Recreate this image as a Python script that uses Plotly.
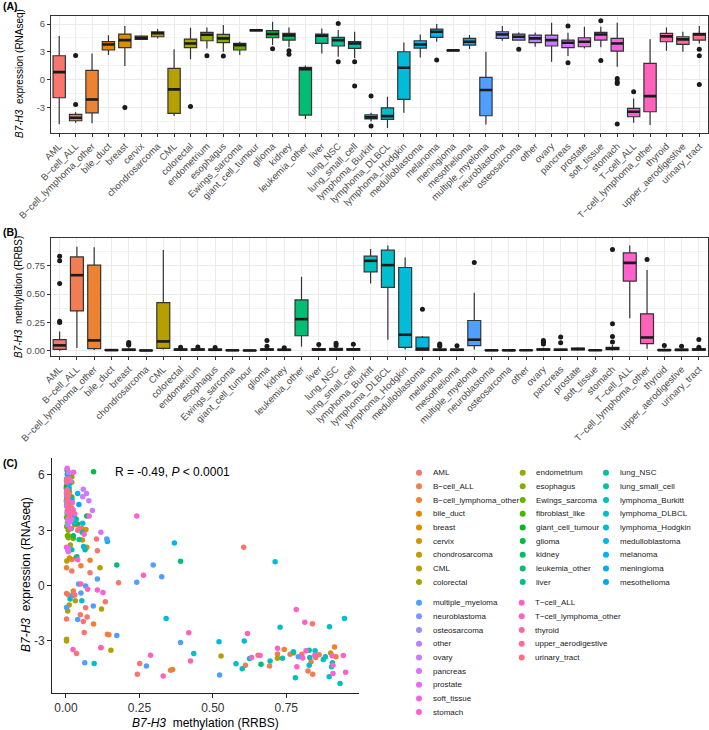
import math
import plotly.graph_objects as go

W, H = 709, 730

# ---------------- categories ----------------
levels = ["AML", "B-cell_ALL", "B-cell_lymphoma_other", "bile_duct", "breast", "cervix",
          "chondrosarcoma", "CML", "colorectal", "endometrium", "esophagus", "Ewings_sarcoma",
          "fibroblast_like", "giant_cell_tumour", "glioma", "kidney", "leukemia_other", "liver",
          "lung_NSC", "lung_small_cell", "lymphoma_Burkitt", "lymphoma_DLBCL", "lymphoma_Hodgkin",
          "medulloblastoma", "melanoma", "meningioma", "mesothelioma", "multiple_myeloma",
          "neuroblastoma", "osteosarcoma", "other", "ovary", "pancreas", "prostate", "soft_tissue",
          "stomach", "T-cell_ALL", "T-cell_lymphoma_other", "thyroid", "upper_aerodigestive",
          "urinary_tract"]

cats_A = ["AML", "B-cell_ALL", "B-cell_lymphoma_other", "bile_duct", "breast", "cervix",
          "chondrosarcoma", "CML", "colorectal", "endometrium", "esophagus", "Ewings_sarcoma",
          "giant_cell_tumour", "glioma", "kidney", "leukemia_other", "liver", "lung_NSC",
          "lung_small_cell", "lymphoma_Burkitt", "lymphoma_DLBCL", "lymphoma_Hodgkin",
          "medulloblastoma", "melanoma", "meningioma", "mesothelioma", "multiple_myeloma",
          "neuroblastoma", "osteosarcoma", "other", "ovary", "pancreas", "prostate", "soft_tissue",
          "stomach", "T-cell_ALL", "T-cell_lymphoma_other", "thyroid", "upper_aerodigestive",
          "urinary_tract"]

# Panel A box statistics (RNAseq expression)
a_lo  = [-4.8, -4.65, -4.7, 2.65, 1.47, 4.27, 4.45, -3.93, 2.19, 3.37, 3.0, 2.65, 5.24, 3.73, 3.5,
         -4.25, 2.83, 2.47, 2.3, -4.5, -5.2, -3.57, 2.4, 4.1, 3.12, 3.3, -4.83, 4.2, 4.2, 3.55,
         1.94, 2.55, 3.37, 3.5, 1.40, -4.65, -4.9, 3.12, 3.01, 3.9]
a_q1  = [-1.95, -4.43, -3.57, 3.2, 3.45, 4.35, 4.63, -3.64, 3.45, 4.2, 3.99, 3.2, 5.27, 4.52, 4.27,
         -3.82, 3.91, 3.63, 3.37, -4.24, -4.29, -2.13, 3.41, 4.56, 3.14, 3.73, -3.89, 4.45, 4.27, 3.99,
         3.63, 3.45, 3.55, 4.27, 3.09, -4.0, -3.46, 4.09, 3.81, 4.27]
a_med = [0.82, -4.1, -2.13, 3.8, 4.27, 4.5, 5.0, -1.05, 3.91, 4.85, 4.45, 3.73, 5.33, 4.92, 4.78,
         1.14, 4.74, 4.27, 3.91, -4.07, -3.93, 1.29, 3.8, 5.17, 3.16, 4.09, -1.12, 4.88, 4.63, 4.45,
         4.27, 3.99, 4.09, 4.88, 3.91, -3.46, -1.77, 4.67, 4.35, 4.88]
a_q3  = [2.58, -3.75, 1.0, 4.1, 4.92, 4.7, 5.17, 1.22, 4.38, 5.1, 4.88, 3.91, 5.38, 5.28, 5.0,
         1.32, 4.92, 4.56, 4.1, -3.78, -3.03, 3.01, 4.2, 5.46, 3.18, 4.45, 0.24, 5.17, 4.92, 4.81,
         4.81, 4.27, 4.52, 5.1, 4.45, -3.1, 1.76, 5.0, 4.63, 5.0]
a_hi  = [4.7, -3.5, 2.83, 4.78, 5.78, 4.8, 5.46, 3.27, 5.6, 5.64, 5.9, 4.1, 5.42, 6.25, 5.64,
         1.54, 5.53, 5.35, 5.17, -3.57, -1.84, 4.02, 4.88, 6.0, 3.2, 4.81, 3.01, 5.78, 5.1, 5.1,
         6.14, 5.06, 5.71, 5.71, 6.14, -2.02, 4.35, 5.64, 5.17, 5.78]
a_out_cat = ["B-cell_ALL", "B-cell_ALL", "breast", "colorectal", "endometrium", "esophagus",
             "glioma", "kidney", "kidney", "lung_NSC", "lung_NSC", "lung_small_cell",
             "lung_small_cell", "lymphoma_Burkitt", "lymphoma_Burkitt", "melanoma", "osteosarcoma",
             "pancreas", "pancreas", "soft_tissue", "soft_tissue", "stomach", "stomach", "stomach",
             "stomach", "T-cell_ALL", "urinary_tract", "urinary_tract", "urinary_tract"]
a_out_val = [2.6, -2.67, -3.0, -2.9, 2.58, 2.55, 3.33, 3.12, 2.73, 6.07, 1.94, 1.94, -0.69,
             -1.77, -5.0, 2.12, 3.27, 5.78, 1.83, 6.36, 2.08, 0.14, -0.22, -0.4, -4.79, -1.3,
             3.27, 2.58, -0.51]

cats_B = ["AML", "B-cell_ALL", "B-cell_lymphoma_other", "bile_duct", "breast", "chondrosarcoma",
          "CML", "colorectal", "endometrium", "esophagus", "Ewings_sarcoma", "giant_cell_tumour",
          "glioma", "kidney", "leukemia_other", "liver", "lung_NSC", "lung_small_cell",
          "lymphoma_Burkitt", "lymphoma_DLBCL", "lymphoma_Hodgkin", "medulloblastoma", "melanoma",
          "mesothelioma", "multiple_myeloma", "neuroblastoma", "osteosarcoma", "other", "ovary",
          "pancreas", "prostate", "soft_tissue", "stomach", "T-cell_ALL", "T-cell_lymphoma_other",
          "thyroid", "upper_aerodigestive", "urinary_tract"]

# Panel B box statistics (RRBS methylation)
b_lo  = [0.0, 0.023, 0.005, 0.0, 0.0, 0.0, 0.01, 0.0, 0.0, 0.0, 0.0, 0.0, 0.0, 0.0, 0.038, 0.0,
         0.0, 0.0, 0.595, 0.097, 0.01, 0.0, 0.0, 0.0, 0.01, 0.0, 0.0, 0.0, 0.0, 0.0, 0.0, 0.0,
         0.0, 0.287, 0.018, 0.0, 0.0, 0.0]
b_q1  = [0.012, 0.352, 0.018, 0.002, 0.003, 0.001, 0.02, 0.005, 0.005, 0.004, 0.002, 0.001,
         0.004, 0.004, 0.132, 0.004, 0.004, 0.005, 0.698, 0.56, 0.029, 0.003, 0.003, 0.003, 0.044,
         0.002, 0.002, 0.002, 0.004, 0.003, 0.008, 0.002, 0.01, 0.616, 0.062, 0.002, 0.003, 0.004]
b_med = [0.047, 0.668, 0.091, 0.005, 0.008, 0.002, 0.082, 0.01, 0.01, 0.008, 0.003, 0.002,
         0.01, 0.008, 0.279, 0.01, 0.01, 0.01, 0.795, 0.757, 0.141, 0.018, 0.008, 0.008, 0.097,
         0.003, 0.003, 0.004, 0.01, 0.008, 0.015, 0.004, 0.018, 0.777, 0.117, 0.005, 0.007, 0.01]
b_q3  = [0.097, 0.83, 0.757, 0.008, 0.015, 0.003, 0.425, 0.015, 0.016, 0.014, 0.005, 0.003,
         0.016, 0.012, 0.449, 0.018, 0.02, 0.018, 0.836, 0.889, 0.736, 0.12, 0.015, 0.013, 0.267,
         0.005, 0.005, 0.006, 0.016, 0.014, 0.024, 0.006, 0.03, 0.865, 0.326, 0.01, 0.012, 0.016]
b_hi  = [0.17, 0.92, 0.915, 0.012, 0.03, 0.004, 0.89, 0.025, 0.025, 0.022, 0.008, 0.004, 0.025,
         0.018, 0.654, 0.03, 0.035, 0.03, 0.9, 0.93, 0.824, 0.13, 0.03, 0.02, 0.513, 0.007, 0.007,
         0.008, 0.025, 0.02, 0.03, 0.008, 0.05, 0.93, 0.713, 0.02, 0.02, 0.025]
b_out_cat = ["AML", "AML", "AML", "AML", "AML", "breast", "breast", "breast", "colorectal",
             "endometrium", "esophagus", "glioma", "glioma", "kidney", "liver", "lung_NSC",
             "lung_NSC", "lung_small_cell", "medulloblastoma", "melanoma", "melanoma", "melanoma",
             "mesothelioma", "multiple_myeloma", "ovary", "ovary", "ovary", "ovary", "pancreas",
             "pancreas", "stomach", "stomach", "stomach", "stomach", "T-cell_lymphoma_other",
             "thyroid", "upper_aerodigestive", "urinary_tract", "urinary_tract"]
b_out_val = [0.25, 0.26, 0.595, 0.795, 0.836, 0.05, 0.06, 0.073, 0.03, 0.032, 0.028, 0.04, 0.09,
             0.025, 0.055, 0.045, 0.065, 0.058, 0.367, 0.04, 0.05, 0.06, 0.044, 0.78, 0.06, 0.07,
             0.08, 0.09, 0.07, 0.12, 0.076, 0.126, 0.238, 0.895, 0.806, 0.045, 0.04, 0.03, 0.1]

# Panel C: (methylation, expression) per cell line, per tumour type
c_AML = [(0.605, 2.08), (0.839, -2.07), (0.803, -3.72), (0.251, -4.22), (0.243, -4.8),
         (0.179, 0.16), (0.107, 1.89), (0.082, 0.7), (0.02, 0.79), (0.008, -0.5), (0.067, -1.2),
         (0.049, -1.58), (0.072, -1.7), (0.059, -1.94), (0.002, -1.81), (0.062, -2.54),
         (0.036, -3.68), (0.119, -3.35), (0.02, 1.42), (0.134, -0.87)]
c_BALL = [(0.356, -4.58), (0.654, -3.77), (0.85, -3.9), (0.141, -2.64), (0.693, -4.35),
          (0.72, -3.7), (0.763, -3.72), (0.824, -4.63), (0.84, -4.81), (0.862, -3.74),
          (0.611, -4.32), (0.002, -0.42)]
c_BLO = [(0.743, -3.46), (0.834, -4.13), (0.914, -3.33), (0.919, -3.86), (0.363, -4.55),
         (0.146, -2.66), (0.094, -2.08), (0.025, -0.29), (0.051, 1.08), (0.082, 1.38),
         (0.033, 1.48), (0.002, 0.97)]
c_bile = [(0.004, 4.7), (0.006, 3.9), (0.003, 3.2), (0.008, 2.7), (0.005, 4.1)]
c_breast = [(0.002, 5.7), (0.01, 4.9), (0.005, 4.3), (0.02, 3.5), (0.007, 4.0), (0.054, 3.1),
            (0.068, 3.05), (0.056, 2.47), (0.071, 2.08), (0.012, 1.5), (0.015, 4.6), (0.03, 3.3)]
c_cervix = [(0.003, 4.5), (0.006, 4.7), (0.002, 4.35)]
c_chondro = [(0.002, 5.0), (0.003, 5.2), (0.001, 4.6)]
c_CML = [(0.528, -3.82), (0.72, -3.94), (0.775, -3.65), (0.901, -3.65), (0.116, 0.97),
         (0.121, -1.27), (0.153, -3.5), (0.002, -2.9), (0.002, -3.0), (0.011, -1.05),
         (0.006, -1.38), (0.032, -0.82), (0.003, 1.33)]
c_colo = [(0.008, 3.9), (0.012, 4.4), (0.005, 3.4), (0.02, 5.6), (0.015, 2.2), (0.03, 3.7),
          (0.01, 4.1)]
c_endo = [(0.006, 4.85), (0.012, 5.1), (0.02, 4.2), (0.004, 5.6), (0.03, 3.4), (0.008, 2.6),
          (0.015, 4.5)]
c_eso = [(0.005, 4.4), (0.01, 4.9), (0.015, 4.0), (0.02, 5.9), (0.008, 3.0), (0.025, 2.55),
         (0.003, 4.6)]
c_ewing = [(0.002, 3.7), (0.004, 3.9), (0.003, 3.2), (0.005, 2.7)]
c_fibro = [(0.01, 5.5), (0.02, 4.8)]
c_giant = [(0.001, 5.3), (0.002, 5.4)]
c_glioma = [(0.004, 6.25), (0.094, 6.18), (0.01, 5.3), (0.006, 4.9), (0.015, 4.5), (0.02, 3.7),
            (0.04, 3.33), (0.008, 5.6), (0.003, 4.7), (0.071, 3.78)]
c_kidney = [(0.005, 5.6), (0.008, 5.0), (0.003, 4.8), (0.012, 4.3), (0.018, 3.1), (0.025, 2.7),
            (0.006, 4.6)]
c_leuk = [(0.664, -4.26), (0.39, 1.32), (0.173, 1.12), (0.037, 1.57)]
c_liver = [(0.01, 5.5), (0.005, 4.9), (0.02, 4.7), (0.015, 3.9), (0.055, 2.9), (0.008, 4.3)]
c_nsc = [(0.005, 6.07), (0.01, 5.3), (0.02, 4.5), (0.008, 4.2), (0.035, 3.6), (0.045, 2.5),
         (0.065, 1.94), (0.003, 4.9), (0.015, 3.9)]
c_sclc = [(0.008, 5.1), (0.015, 4.1), (0.01, 3.9), (0.03, 3.4), (0.02, 1.94), (0.014, -0.73)]
c_burkitt = [(0.695, -4.09), (0.737, -3.94), (0.774, -3.59), (0.828, -3.5), (0.83, -3.9),
             (0.876, -4.0), (0.883, -3.86), (0.907, -4.18), (0.625, -3.95), (0.848, -3.53),
             (0.6, -4.51), (0.781, -5.0)]
c_dlbcl = [(0.729, -2.25), (0.897, -2.23), (0.948, -1.78), (0.579, -4.24), (0.828, -4.31),
           (0.904, -4.4), (0.896, -4.94), (0.933, -5.3), (0.435, -3.68), (0.096, -4.22)]
c_hodgkin = [(0.712, 1.3), (0.341, -1.78), (0.521, -3.04), (0.607, -3.0), (0.054, -0.82),
             (0.057, 3.38)]
c_medullo = [(0.003, 4.9), (0.01, 4.2), (0.02, 3.8), (0.369, 2.31), (0.141, 2.4)]
c_melanoma = [(0.005, 6.0), (0.01, 5.5), (0.008, 5.2), (0.02, 4.6), (0.04, 5.0), (0.06, 2.12)]
c_meso = [(0.005, 4.8), (0.01, 4.1), (0.02, 3.7), (0.044, 4.4)]
c_mm = [(0.791, -3.86), (0.523, -4.85), (0.39, -3.08), (0.297, 1.12), (0.326, 0.48),
        (0.241, 0.18), (0.274, -4.35), (0.173, -2.7), (0.107, 0.36), (0.093, -1.11),
        (0.064, -4.18), (0.139, 2.53), (0.043, 0.09), (0.067, -0.02), (0.023, -0.53),
        (0.051, -0.4), (0.002, -1.18), (0.04, -1.83)]
c_neuro = [(0.002, 5.8), (0.004, 5.2), (0.003, 4.9), (0.005, 4.4)]
c_osteo = [(0.002, 5.1), (0.004, 4.6), (0.003, 4.3), (0.006, 3.3)]
c_other = [(0.003, 5.1), (0.005, 4.5), (0.004, 4.0), (0.006, 3.6)]
c_ovary = [(0.09, 4.08), (0.078, 4.6), (0.059, 5.22), (0.057, 4.82), (0.01, 6.14), (0.005, 4.8),
           (0.015, 4.3), (0.02, 3.6), (0.006, 1.94), (0.008, 2.03), (0.07, 5.0)]
c_pancreas = [(0.119, 2.89), (0.01, 5.78), (0.006, 4.0), (0.014, 3.45), (0.008, 1.84)]
c_prostate = [(0.015, 5.7), (0.02, 4.5), (0.025, 4.1), (0.01, 3.55)]
c_soft = [(0.004, 6.36), (0.003, 5.1), (0.005, 4.9), (0.006, 4.3), (0.002, 2.08)]
c_stomach = [(0.026, 6.15), (0.241, 3.78), (0.126, -0.37), (0.107, -0.24), (0.909, -4.76),
             (0.02, 4.5), (0.03, 3.9), (0.015, 3.1), (0.01, 4.45), (0.04, 1.4), (0.062, 2.78),
             (0.079, 3.78)]
c_TALL = [(0.784, -1.29), (0.813, -1.98), (0.632, -3.89), (0.661, -3.79), (0.72, -3.39),
          (0.786, -4.4), (0.806, -3.92), (0.817, -3.53), (0.847, -3.77), (0.909, -4.31),
          (0.906, -3.8), (0.944, -3.79), (0.952, -4.7)]
c_TLO = [(0.264, 0.57), (0.119, -3.37), (0.288, -3.78), (0.331, -4.9), (0.418, -2.56),
         (0.424, -4.08), (0.024, -3.46), (0.074, -0.2), (0.051, 0.09), (0.618, -2.59)]
c_thyroid = [(0.003, 5.6), (0.005, 5.0), (0.004, 4.7), (0.008, 4.1), (0.045, 3.12), (0.01, 4.4)]
c_uad = [(0.004, 5.17), (0.007, 4.6), (0.01, 4.35), (0.012, 3.8), (0.04, 3.0), (0.02, 4.0)]
c_urinary = [(0.005, 5.78), (0.01, 5.0), (0.008, 4.88), (0.016, 4.27), (0.104, 2.53),
             (0.03, -0.51)]

scatter_sets = [("AML", c_AML), ("B-cell_ALL", c_BALL), ("B-cell_lymphoma_other", c_BLO),
                ("bile_duct", c_bile), ("breast", c_breast), ("cervix", c_cervix),
                ("chondrosarcoma", c_chondro), ("CML", c_CML), ("colorectal", c_colo),
                ("endometrium", c_endo), ("esophagus", c_eso), ("Ewings_sarcoma", c_ewing),
                ("fibroblast_like", c_fibro), ("giant_cell_tumour", c_giant), ("glioma", c_glioma),
                ("kidney", c_kidney), ("leukemia_other", c_leuk), ("liver", c_liver),
                ("lung_NSC", c_nsc), ("lung_small_cell", c_sclc), ("lymphoma_Burkitt", c_burkitt),
                ("lymphoma_DLBCL", c_dlbcl), ("lymphoma_Hodgkin", c_hodgkin),
                ("medulloblastoma", c_medullo), ("melanoma", c_melanoma), ("mesothelioma", c_meso),
                ("multiple_myeloma", c_mm), ("neuroblastoma", c_neuro), ("osteosarcoma", c_osteo),
                ("other", c_other), ("ovary", c_ovary), ("pancreas", c_pancreas),
                ("prostate", c_prostate), ("soft_tissue", c_soft), ("stomach", c_stomach),
                ("T-cell_ALL", c_TALL), ("T-cell_lymphoma_other", c_TLO), ("thyroid", c_thyroid),
                ("upper_aerodigestive", c_uad), ("urinary_tract", c_urinary)]

corr_text = "R = -0.49, <i>P</i> &lt; 0.0001"


# ---------------- colours: ggplot2 hue palette ----------------
def hcl_hex(h, c=100.0, l=65.0):
    Xn, Yn, Zn = 95.047, 100.0, 108.883
    den = Xn + 15 * Yn + 3 * Zn
    un, vn = 4 * Xn / den, 9 * Yn / den
    Y = Yn * ((l + 16) / 116) ** 3
    hr = math.radians(h)
    u, v = c * math.cos(hr), c * math.sin(hr)
    up, vp = u / (13 * l) + un, v / (13 * l) + vn
    X = Y * 9 * up / (4 * vp)
    Z = Y * (12 - 3 * up - 20 * vp) / (4 * vp)
    X, Y, Z = X / 100, Y / 100, Z / 100
    rgb = [3.2404542 * X - 1.5371385 * Y - 0.4985314 * Z,
           -0.9692660 * X + 1.8760108 * Y + 0.0415560 * Z,
           0.0556434 * X - 0.2040259 * Y + 1.0572252 * Z]
    out = []
    for ch in rgb:
        ch = 1.055 * ch ** (1 / 2.4) - 0.055 if ch > 0.0031308 else 12.92 * ch
        out.append(int(round(min(max(ch, 0), 1) * 255)))
    return "#%02X%02X%02X" % tuple(out)


n = len(levels)
COL = {lv: hcl_hex((15 + 360 * i / n) % 360) for i, lv in enumerate(levels)}


def disp(s):
    return s.replace("-cell", "\u2212cell")


def PX(px):
    return px / W


def PY(py):
    return 1 - py / H


FONT = "Liberation Sans, Arial, sans-serif"
GRID = "#EBEBEB"
fig = go.Figure()


def add_boxes(cats, lo, q1, med, q3, hi, ocat, oval, xa, ya):
    for i, c in enumerate(cats):
        fig.add_trace(go.Box(x=[i], q1=[q1[i]], median=[med[i]], q3=[q3[i]],
                             lowerfence=[lo[i]], upperfence=[hi[i]], fillcolor=COL[c],
                             line=dict(color="#333333", width=1.2), whiskerwidth=0, width=0.75,
                             boxpoints=False, xaxis=xa, yaxis=ya, showlegend=False,
                             hoverinfo="skip"))
    mx, my = [], []
    for i, m in enumerate(med):
        mx += [i - 0.375, i + 0.375, None]
        my += [m, m, None]
    fig.add_trace(go.Scatter(x=mx, y=my, mode="lines", line=dict(color="#1A1A1A", width=2.6),
                             xaxis=xa, yaxis=ya, showlegend=False, hoverinfo="skip"))
    fig.add_trace(go.Scatter(x=[cats.index(c) for c in ocat], y=oval, mode="markers",
                             marker=dict(color="#1A1A1A", size=5), xaxis=xa, yaxis=ya,
                             showlegend=False, hoverinfo="skip"))


add_boxes(cats_A, a_lo, a_q1, a_med, a_q3, a_hi, a_out_cat, a_out_val, "x", "y")
add_boxes(cats_B, b_lo, b_q1, b_med, b_q3, b_hi, b_out_cat, b_out_val, "x2", "y2")

for cat, pts in scatter_sets:
    fig.add_trace(go.Scatter(x=[p[0] for p in pts], y=[p[1] for p in pts], mode="markers",
                             marker=dict(color=COL[cat], size=5.5), xaxis="x3", yaxis="y3",
                             showlegend=False, hoverinfo="skip"))

# legend drawn in a pixel-space axis
leg_x, leg_y, leg_txt = [], [], []
block1 = levels[:27]
block2 = levels[27:]
col1 = [419, 522.7, 606]
col2 = [419, 521.7]
for k, lv in enumerate(block1):
    leg_x.append(col1[k // 9]); leg_y.append(472.7 + 13.67 * (k % 9)); leg_txt.append(lv)
for k, lv in enumerate(block2):
    leg_x.append(col2[k // 9]); leg_y.append(602.7 + 13.67 * (k % 9)); leg_txt.append(lv)
fig.add_trace(go.Scatter(x=leg_x, y=leg_y, mode="markers",
                         marker=dict(color=[COL[t] for t in leg_txt], size=6),
                         xaxis="x4", yaxis="y4", showlegend=False, hoverinfo="skip"))

ann = []
for x, y, t in zip(leg_x, leg_y, leg_txt):
    ann.append(dict(x=x + 11.5, y=y, xref="x4", yref="y4", text=disp(t), showarrow=False,
                    xanchor="left", yanchor="middle", font=dict(size=8, color="#1A1A1A")))

tick_small = dict(family=FONT, size=9.5, color="#4D4D4D")
box_x_common = dict(ticks="outside", ticklen=3, tickcolor="#333333", showgrid=True,
                    gridcolor=GRID, gridwidth=1, showline=True, mirror=True, linecolor="#333333",
                    linewidth=1, zeroline=False, tickangle=-45, tickfont=tick_small,
                    automargin=False)
box_y_common = dict(ticks="outside", ticklen=3, tickcolor="#333333", showgrid=True,
                    gridcolor=GRID, gridwidth=1, showline=True, mirror=True, linecolor="#333333",
                    linewidth=1, zeroline=False, tickfont=tick_small, automargin=False)

fig.update_layout(
    width=W, height=H, autosize=False,
    margin=dict(l=0, r=0, t=0, b=0, pad=0, autoexpand=False), paper_bgcolor="white",
    plot_bgcolor="white", boxmode="overlay", font=dict(family=FONT, color="#000000"),
    showlegend=False,
    xaxis=dict(domain=[PX(51), PX(707.5)], anchor="y", range=[-0.5, len(cats_A) - 0.5],
               tickvals=list(range(len(cats_A))), ticktext=[disp(c) for c in cats_A],
               **box_x_common),
    yaxis=dict(domain=[PY(133), PY(15.7)], anchor="x", range=[-5.75, 6.9],
               tickvals=[-3, 0, 3, 6], ticktext=["-3", "0", "3", "6"],
               minor=dict(tickvals=[-4.5, -1.5, 1.5, 4.5], showgrid=True, gridcolor=GRID,
                          gridwidth=0.6, ticks=""),
               **box_y_common),
    xaxis2=dict(domain=[PX(51), PX(707.5)], anchor="y2", range=[-0.5, len(cats_B) - 0.5],
                tickvals=list(range(len(cats_B))), ticktext=[disp(c) for c in cats_B],
                **box_x_common),
    yaxis2=dict(domain=[PY(356), PY(238)], anchor="x2", range=[-0.047, 0.997],
                tickvals=[0, 0.25, 0.5, 0.75], ticktext=["0.00", "0.25", "0.50", "0.75"],
                minor=dict(tickvals=[0.125, 0.375, 0.625, 0.875], showgrid=True,
                           gridcolor=GRID, gridwidth=0.6, ticks=""),
                **box_y_common),
    xaxis3=dict(domain=[PX(52), PX(359)], anchor="y3", range=[-0.0475, 0.9975],
                tickvals=[0, 0.25, 0.5, 0.75], ticktext=["0.00", "0.25", "0.50", "0.75"],
                ticks="outside", ticklen=4, tickcolor="#222222", showgrid=False, showline=True,
                linecolor="#222222", linewidth=1, zeroline=False, automargin=False,
                tickfont=dict(family=FONT, size=12, color="#333333")),
    yaxis3=dict(domain=[PY(693), PY(458)], anchor="x3", range=[-5.82, 6.92],
                tickvals=[-3, 0, 3, 6], ticktext=["-3", "0", "3", "6"],
                ticks="outside", ticklen=4, tickcolor="#222222", showgrid=False, showline=True,
                linecolor="#222222", linewidth=1, zeroline=False, automargin=False,
                tickfont=dict(family=FONT, size=12, color="#333333")),
    xaxis4=dict(domain=[PX(400), 1], anchor="y4", range=[400, 709], visible=False,
                automargin=False),
    yaxis4=dict(domain=[0, PY(460)], anchor="x4", range=[730, 460], visible=False,
                automargin=False),
)

NB = "\u00a0\u00a0"
ann += [
    dict(x=PX(1), y=PY(6), xref="paper", yref="paper", text="<b>(A)</b>", showarrow=False,
         xanchor="left", yanchor="middle", font=dict(size=10.5)),
    dict(x=PX(1), y=PY(232), xref="paper", yref="paper", text="<b>(B)</b>", showarrow=False,
         xanchor="left", yanchor="middle", font=dict(size=10.5)),
    dict(x=PX(1), y=PY(463), xref="paper", yref="paper", text="<b>(C)</b>", showarrow=False,
         xanchor="left", yanchor="middle", font=dict(size=10.5)),
    dict(x=PX(19), y=PY(74), xref="paper", yref="paper", textangle=-90, showarrow=False,
         text="<i>B7-H3</i>" + NB + "expression (RNAseq)", xanchor="center", yanchor="middle",
         font=dict(size=10)),
    dict(x=PX(19), y=PY(297), xref="paper", yref="paper", textangle=-90, showarrow=False,
         text="<i>B7-H3</i>" + NB + "methylation (RRBS)", xanchor="center", yanchor="middle",
         font=dict(size=10)),
    dict(x=PX(26), y=PY(575), xref="paper", yref="paper", textangle=-90, showarrow=False,
         text="<i>B7-H3</i>" + NB + "expression (RNAseq)", xanchor="center", yanchor="middle",
         font=dict(size=12)),
    dict(x=PX(205), y=PY(723), xref="paper", yref="paper", showarrow=False,
         text="<i>B7-H3</i>" + NB + "methylation (RRBS)", xanchor="center", yanchor="middle",
         font=dict(size=12)),
    dict(x=PX(113), y=PY(472), xref="paper", yref="paper", showarrow=False, text=corr_text,
         xanchor="left", yanchor="middle", font=dict(size=12)),
]
fig.update_layout(annotations=ann)

page_fix = ("document.documentElement.style.margin='0';document.body.style.margin='0';"
            "document.body.style.padding='0';document.documentElement.style.overflow='hidden';"
            "document.body.style.overflow='hidden';")
fig.write_html("out.html", post_script=page_fix,
               config={"responsive": False, "displayModeBar": False, "staticPlot": True})
